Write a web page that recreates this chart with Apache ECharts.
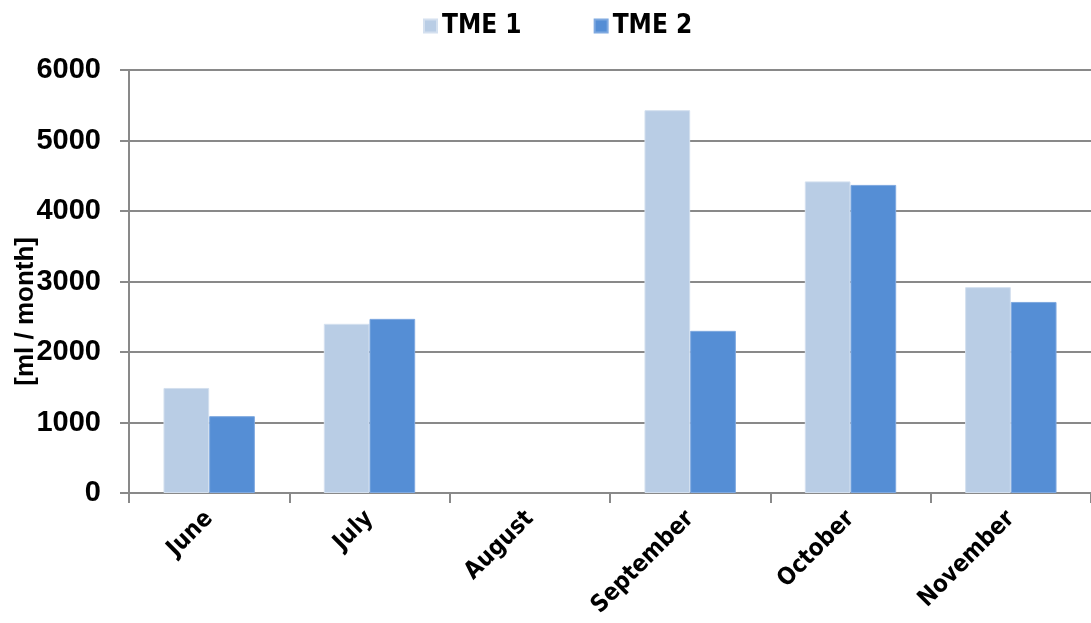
<!DOCTYPE html>
<html><head><meta charset="utf-8">
<script src="https://cdn.jsdelivr.net/npm/echarts@6/dist/echarts.min.js"></script>
<style>html,body{margin:0;padding:0;background:#fff}#c{width:1091px;height:623px}</style>
</head><body><div id="c"></div>
<script>
const categories = ['June','July','August','September','October','November'];
const tme1 = [1490, 2400, null, 5430, 4420, 2920];
const tme2 = [1090, 2470, null, 2300, 4370, 2710];
const yTicks = [0, 1000, 2000, 3000, 4000, 5000, 6000];
const seriesNames = ['TME 1', 'TME 2'];
const yName = '[ml / month]';

const chart = echarts.init(document.getElementById('c'), null, {renderer:'canvas'});
const narrow = "'Liberation Sans Narrow', 'DejaVu Sans Condensed', 'Liberation Sans', sans-serif";
const gridColor = '#898989';
chart.setOption({
  animation:false,
  color:['#B9CDE5','#558ED5'],
  legend:{
    data:seriesNames, top:8, left:418, itemWidth:13, itemHeight:13, itemGap:72,
    icon:'rect',
    textStyle:{fontFamily:narrow, fontWeight:'bold', fontSize:26, color:'#000'}
  },
  grid:{left:129, right:0, top:70, bottom:130, containLabel:false},
  xAxis:{
    type:'category', data:categories,
    axisLine:{lineStyle:{color:gridColor, width:2}},
    axisTick:{show:true, length:10, lineStyle:{color:gridColor, width:2}},
    axisLabel:{rotate:45, margin:22, fontFamily:narrow, fontWeight:'bold', fontSize:24, color:'#000'}
  },
  yAxis:{
    type:'value', min:0, max:6000, interval:1000,
    axisLine:{show:true, lineStyle:{color:gridColor, width:2}},
    axisTick:{show:true, length:9, lineStyle:{color:gridColor, width:2}},
    splitLine:{lineStyle:{color:gridColor, width:2}},
    axisLabel:{margin:28, fontFamily:"'Liberation Sans', Arial, sans-serif", fontWeight:'bold', fontSize:29, color:'#000',
      formatter:function(v){return yTicks.indexOf(v)>=0 ? String(v) : '';}}
  },
  graphic:[{
    type:'text', left:13, top:237, rotation:Math.PI/2,
    style:{text:yName, fontFamily:"'Liberation Sans', Arial, sans-serif", fontWeight:'bold', fontSize:26, fill:'#000'}
  }],
  series:[
    {name:seriesNames[0], type:'bar', data:tme1, barGap:'0%', barCategoryGap:'43%',
     itemStyle:{borderColor:'#D4E0EF', borderWidth:1}},
    {name:seriesNames[1], type:'bar', data:tme2,
     itemStyle:{borderColor:'#7FA9E0', borderWidth:1}}
  ]
});
</script></body></html>
